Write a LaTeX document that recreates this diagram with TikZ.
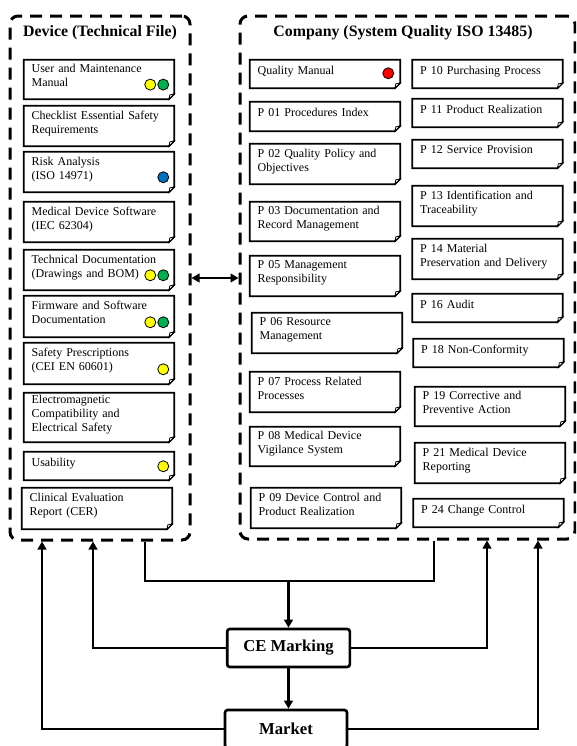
\documentclass[tikz,border=0pt]{standalone}
\usepackage{fontspec}
\setmainfont{Liberation Serif}
\usetikzlibrary{arrows.meta}
\definecolor{dotyellow}{HTML}{FFFF00}
\definecolor{dotgreen}{HTML}{00B050}
\definecolor{dotblue}{HTML}{0070C0}
\definecolor{dotred}{HTML}{FF0000}
\tikzset{
  docbox/.style={inner xsep=5.75pt, inner ysep=1pt, text width=101pt, align=left,
    minimum height=#1, font=\fontsize{9}{10.5}\selectfont,
    execute at end node={\rule[-6pt]{0pt}{6pt}}},
  docbox/.default=30pt,
  docline/.style={line width=1.3pt, line join=miter},
  fold/.style={fill=white, line width=0.6pt},
  dot/.style={circle, draw, line width=0.6pt, minimum size=8.25pt, inner sep=0pt},
  group/.style={draw, line width=2.25pt, dash pattern=on 9pt off 6pt, rounded corners=6pt, inner sep=0pt},
  grouptitle/.style={font=\bfseries\fontsize{11.9}{14}\selectfont},
  stage/.style={draw, line width=2pt, rounded corners=2pt, minimum width=92pt, minimum height=28.5pt,
    font=\bfseries\fontsize{12.5}{14}\selectfont},
  link/.style={line width=2.2pt},
  flow/.style={link, -{Triangle[length=6pt,width=6.5pt]}}
}
\begin{document}
\begin{tikzpicture}[x=0.75pt,y=-0.75pt]
\useasboundingbox (0,0) rectangle (576,746);
\clip (0,0) rectangle (576,746);
% the two groups
\node[group, minimum width=135pt, minimum height=393pt] (device) at (100,278) {};
\node[group, minimum width=251.25pt, minimum height=392.25pt] (company) at (407.5,277.5) {};
\node[grouptitle] (devtitle) at (100,33) {Device (Technical File)};
\node[grouptitle] (comptitle) at (403,33) {Company (System Quality ISO 13485)};
% technical file
\node[docbox=29.25pt] (manual) at (99,79.5) {User and Maintenance\\Manual};
\node[docbox] (checklist) at (99,126) {Checklist Essential Safety\\Requirements};
\node[docbox] (risk) at (99,172) {Risk Analysis\\(ISO 14971)};
\node[docbox] (mdsw) at (99,222) {Medical Device Software\\(IEC 62304)};
\node[docbox] (techdoc) at (99,270) {Technical Documentation\\(Drawings and BOM)};
\node[docbox=30.75pt] (firmware) at (99,316.5) {Firmware and Software\\Documentation};
\node[docbox=30.75pt] (safety) at (99,363.5) {Safety Prescriptions\\(CEI EN 60601)};
\node[docbox=36.75pt] (emc) at (99,417.5) {Electromagnetic\\Compatibility and\\Electrical Safety};
\node[docbox=21pt] (usability) at (99,466) {Usability};
\node[docbox=30.75pt] (cer) at (97,508.5) {Clinical Evaluation\\Report (CER)};
% quality system, first column
\node[docbox=21pt] (qm) at (325,74) {Quality Manual};
\node[docbox=21.75pt] (p01) at (325,116.5) {P 01 Procedures Index};
\node[docbox] (p02) at (325,164) {P 02 Quality Policy and\\Objectives};
\node[docbox=29.25pt] (p03) at (325,221.5) {P 03 Documentation and\\Record Management};
\node[docbox] (p05) at (325,276) {P 05 Management\\Responsibility};
\node[docbox] (p06) at (327,333) {P 06 Resource\\Management};
\node[docbox] (p07) at (325,392) {P 07 Process Related\\Processes};
\node[docbox=29.25pt] (p08) at (325,446.5) {P 08 Medical Device\\Vigilance System};
\node[docbox] (p09) at (326,508) {P 09 Device Control and\\Product Realization};
% quality system, second column
\node[docbox=21pt] (p10) at (487.5,74) {P 10 Purchasing Process};
\node[docbox=21pt] (p11) at (487.5,113) {P 11 Product Realization};
\node[docbox=21pt] (p12) at (487.5,154) {P 12 Service Provision};
\node[docbox] (p13) at (487.5,206) {P 13 Identification and\\Traceability};
\node[docbox] (p14) at (487.5,259) {P 14 Material\\Preservation and Delivery};
\node[docbox=21pt] (p16) at (487.5,308) {P 16 Audit};
\node[docbox=21pt] (p18) at (488.5,353) {P 18 Non-Conformity};
\node[docbox=29.25pt] (p19) at (490,406.5) {P 19 Corrective and\\Preventive Action};
\node[docbox] (p21) at (490,463) {P 21 Medical Device\\Reporting};
\node[docbox=21pt] (p24) at (488.5,513) {P 24 Change Control};
% folded page outlines
\foreach \n in {manual,checklist,risk,mdsw,techdoc,firmware,safety,emc,usability,cer,
  qm,p01,p02,p03,p05,p06,p07,p08,p09,p10,p11,p12,p13,p14,p16,p18,p19,p21,p24} {
  \draw[docline] (\n.north west) -- (\n.north east) -- ([yshift=4pt]\n.south east)
    -- ([xshift=-4pt]\n.south east) -- (\n.south west) -- cycle;
  \filldraw[fold] ([yshift=4pt]\n.south east) -- ([xshift=-3.3pt,yshift=3.3pt]\n.south east)
    -- ([xshift=-4pt]\n.south east) -- cycle;
}
% coloured marks
\node[dot, fill=dotyellow] (manual-y) at ([xshift=-18pt,yshift=11pt]manual.south east) {};
\node[dot, fill=dotgreen] (manual-g) at ([xshift=-8.25pt,yshift=11pt]manual.south east) {};
\node[dot, fill=dotblue] (risk-b) at ([xshift=-8.25pt,yshift=11.25pt]risk.south east) {};
\node[dot, fill=dotyellow] (techdoc-y) at ([xshift=-18pt,yshift=11.25pt]techdoc.south east) {};
\node[dot, fill=dotgreen] (techdoc-g) at ([xshift=-8.25pt,yshift=11.25pt]techdoc.south east) {};
\node[dot, fill=dotyellow] (firmware-y) at ([xshift=-18pt,yshift=11.25pt]firmware.south east) {};
\node[dot, fill=dotgreen] (firmware-g) at ([xshift=-8.25pt,yshift=11.25pt]firmware.south east) {};
\node[dot, fill=dotyellow] (safety-y) at ([xshift=-8.25pt,yshift=11.25pt]safety.south east) {};
\node[dot, fill=dotyellow] (usability-y) at ([xshift=-8.25pt,yshift=10.5pt]usability.south east) {};
\node[dot, fill=dotred] (qm-r) at ([xshift=-9pt,yshift=11.25pt]qm.south east) {};
% certification path
\node[stage] (ce) at (288.5,648) {CE Marking};
\node[stage, minimum width=91.5pt] (market) at (286,729) {Market};
\coordinate (join) at (ce.north |- 0,581);
\draw[link, {Triangle[length=6pt,width=6.5pt]}-{Triangle[length=6pt,width=6.5pt]}]
  (device.east) -- (device.east -| company.west);
\draw[link] (device.south -| 145,0) |- (join) -| (company.south -| 434,0);
\draw[flow] (join) -- (ce.north);
\draw[flow] (ce.west) -| (device.south -| 93,0);
\draw[flow] (ce.east) -| (company.south -| 487,0);
\draw[flow] (ce.south) -- (ce.south |- market.north);
\draw[flow] (market.west) -| (device.south -| 42,0);
\draw[flow] (market.east) -| (company.south -| 538,0);
\end{tikzpicture}
\end{document}
